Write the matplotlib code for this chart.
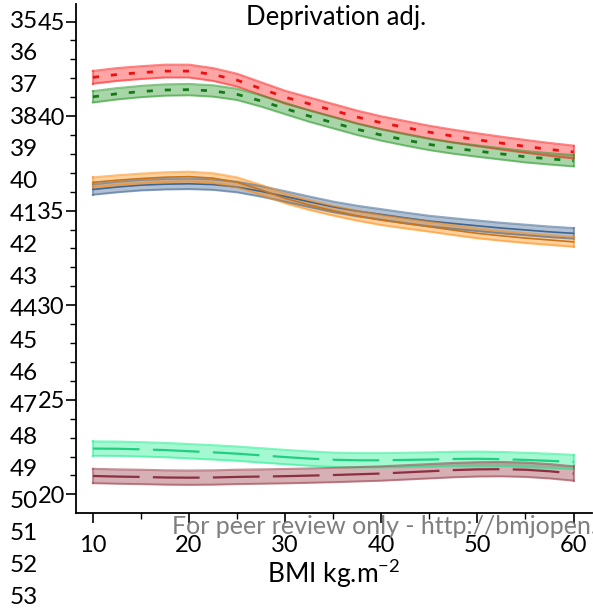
import numpy as np
import matplotlib.pyplot as plt

plt.rcParams['font.family'] = ['Lato', 'DejaVu Sans']
plt.rcParams['mathtext.fontset'] = 'custom'
plt.rcParams['mathtext.rm'] = 'Lato'

# ----------------------------
# Data: fitted curves (centre) and CI half-widths
# ----------------------------
bmi = [10, 12.5, 15, 17.5, 20, 22.5, 25, 27.5, 30, 32.5, 35,
       37.5, 40, 42.5, 45, 47.5, 50, 52.5, 55, 57.5, 60]

red_fit = [42.05, 42.20, 42.30, 42.38, 42.38, 42.20, 41.90, 41.45, 41.00, 40.65, 40.30,
           39.95, 39.65, 39.40, 39.15, 38.94, 38.75, 38.57, 38.40, 38.24, 38.10]
green_fit = [41.02, 41.18, 41.30, 41.38, 41.40, 41.33, 41.15, 40.80, 40.40, 40.00, 39.65,
             39.30, 39.00, 38.74, 38.50, 38.31, 38.15, 38.00, 37.85, 37.74, 37.64]
blue_fit = [36.12, 36.25, 36.35, 36.40, 36.42, 36.38, 36.25, 36.02, 35.75, 35.47, 35.20,
            34.98, 34.80, 34.62, 34.45, 34.32, 34.20, 34.08, 33.98, 33.88, 33.80]
orange_fit = [36.50, 36.61, 36.70, 36.77, 36.80, 36.72, 36.50, 36.10, 35.65, 35.30, 35.00,
              34.73, 34.50, 34.32, 34.15, 33.97, 33.80, 33.67, 33.55, 33.45, 33.35]
spring_fit = [22.42, 22.41, 22.38, 22.34, 22.28, 22.22, 22.15, 22.06, 21.97, 21.89, 21.83,
              21.80, 21.80, 21.82, 21.84, 21.87, 21.88, 21.86, 21.82, 21.77, 21.71]
maroon_fit = [20.97, 20.94, 20.92, 20.89, 20.88, 20.89, 20.92, 20.94, 20.96, 20.99, 21.02,
              21.06, 21.10, 21.16, 21.22, 21.28, 21.32, 21.33, 21.30, 21.22, 21.10]

half_width = {"red": 0.34, "green": 0.30, "blue": 0.28, "orange": 0.26,
              "spring": 0.38, "maroon": 0.38}

line_numbers = list(range(35, 54))
yticks = [20, 25, 30, 35, 40, 45]
xticks = [10, 20, 30, 40, 50, 60]

# ----------------------------
# Plot
# ----------------------------
fig = plt.figure(figsize=(5.93, 6.11), dpi=100)
ax = fig.add_axes([0.128, 0.160, 0.870, 0.8335])
x = np.array(bmi)


def band(fit, hw, color, line, ls, lw=1.6, dashes=None):
    fit = np.array(fit)
    ax.fill_between(x, fit - hw, fit + hw, color=color, alpha=0.4, lw=0)
    ax.plot(x, fit - hw, color=color, alpha=0.55, lw=1.5)
    ax.plot(x, fit + hw, color=color, alpha=0.55, lw=1.5)
    ax.plot([x[0], x[0]], [fit[0] - hw, fit[0] + hw], color=color, alpha=0.55, lw=1.5)
    ax.plot([x[-1], x[-1]], [fit[-1] - hw, fit[-1] + hw], color=color, alpha=0.55, lw=1.5)
    l, = ax.plot(x, fit, color=line, lw=lw, ls=ls)
    if dashes is not None:
        l.set_dashes(dashes)


band(red_fit, half_width["red"], "#ff2020", "#ee1010", "--", 2.0, (2.2, 4.3))
band(green_fit, half_width["green"], "#2a9a2a", "#157a15", "--", 2.0, (2.2, 4.3))
band(blue_fit, half_width["blue"], "#3d6592", "#3d6592", "-", 1.2)
band(orange_fit, half_width["orange"], "#ff8c10", "#c8741a", "-", 1.2)
band(spring_fit, half_width["spring"], "#20f090", "#20d080", "--", 1.6, (21, 6))
band(maroon_fit, half_width["maroon"], "#9a3a48", "#8a3040", "--", 1.6, (21, 6))

ax.set_xlim(8.23, 61.9)
ax.set_ylim(19.0, 45.93)
ax.set_xticks(xticks)
ax.set_yticks(yticks)
ax.set_xticks(np.arange(15, 60, 10), minor=True)
ax.set_yticks(np.arange(20, 46, 1), minor=True)
ax.tick_params(which="major", length=7, width=1.2, labelsize=17)
ax.tick_params(axis="y", which="major", pad=1)
ax.tick_params(axis="x", which="major", pad=9)
ax.tick_params(which="minor", length=4, width=1.0)
ax.spines[["top", "right"]].set_visible(False)
ax.spines[["left", "bottom"]].set_linewidth(1.3)

ax.text(0.504, 0.997, "Deprivation adj.", transform=ax.transAxes,
        ha="center", va="top", fontsize=18.5)
ax.set_xlabel("BMI kg.m$^{-2}$", fontsize=19, labelpad=0)

# manuscript line numbers down the left margin
for i, n in enumerate(line_numbers):
    fig.text(10 / 593, 1 - (22 + 32 * i) / 611, str(n), fontsize=17.5,
             ha="left", va="center")

fig.text(172 / 593, 1 - 527 / 611,
         "For peer review only - http://bmjopen.bmj.com/site/about/guidelines.xhtml",
         fontsize=18, color="#7f7f7f", ha="left", va="center")

fig.savefig("out.png", dpi=100)
